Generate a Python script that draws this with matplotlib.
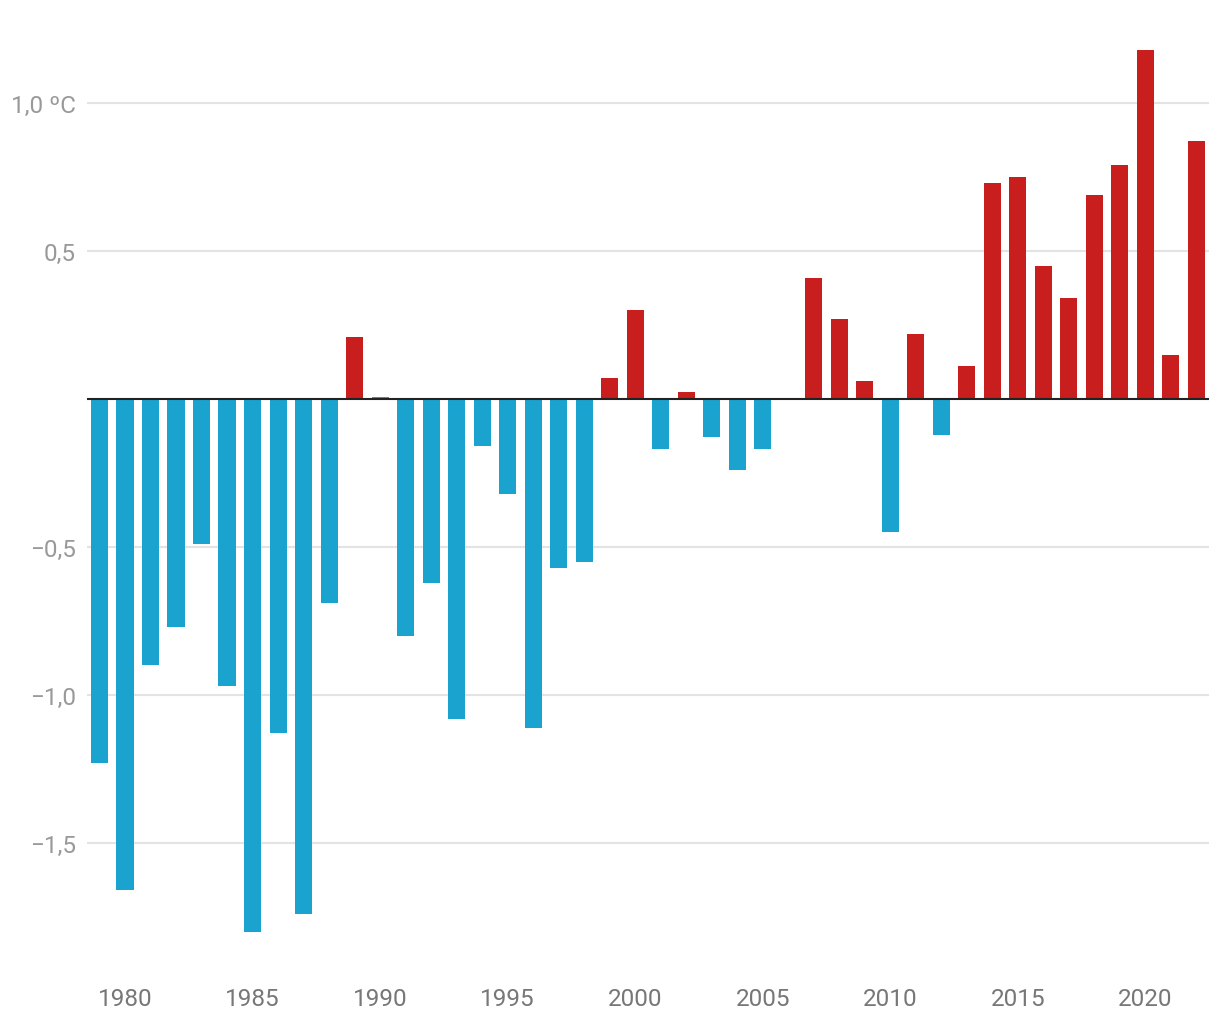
import numpy as np
import matplotlib.pyplot as plt

plt.rcParams['font.family'] = ['Roboto', 'DejaVu Sans']

# temperature anomaly per year
years = np.arange(1979, 2023)
anomaly = [-1.23, -1.66, -0.90, -0.77, -0.49, -0.97, -1.80, -1.13, -1.74, -0.69,
           0.21, 0.008, -0.80, -0.62, -1.08, -0.16, -0.32, -1.11, -0.57, -0.55,
           0.07, 0.30, -0.17, 0.024, -0.13, -0.24, -0.17, 0.0, 0.41, 0.27,
           0.06, -0.45, 0.22, -0.12, 0.11, 0.73, 0.75, 0.45, 0.34, 0.69,
           0.79, 1.18, 0.15, 0.87]

ytick_vals = [-1.5, -1.0, -0.5, 0.5, 1.0]
ytick_labels = ["\u22121,5", "\u22121,0", "\u22120,5", "0,5", "1,0 \u00baC"]
xtick_vals = [1980, 1985, 1990, 1995, 2000, 2005, 2010, 2015, 2020]

blue = "#1aa3cf"
red = "#c81e1e"
colors = [red if v > 0.01 else blue for v in anomaly]

fig = plt.figure(figsize=(12.2, 10.2), dpi=100)
ax = fig.add_axes([0.0711, 0.0710, 0.920, 0.8996])

for y in ytick_vals:
    ax.axhline(y, color="#e3e3e3", linewidth=1.5, zorder=0)

ax.bar(years, anomaly, width=0.67, color=colors, zorder=2)
ax.axhline(0, color="#222222", linewidth=1.5, zorder=3)

ax.set_xlim(1978.5, 2022.5)
ax.set_ylim(-1.85, 1.25)

ax.set_yticks(ytick_vals)
ax.set_yticklabels(ytick_labels)
ax.set_xticks(xtick_vals)
ax.set_xticklabels([str(x) for x in xtick_vals])

ax.tick_params(axis='y', length=0, pad=8, labelsize=17.5, labelcolor="#999999")
ax.tick_params(axis='x', length=0, pad=29, labelsize=17.5, labelcolor="#777777")

for s in ax.spines.values():
    s.set_visible(False)

fig.savefig("out.png", dpi=100, facecolor="white")
